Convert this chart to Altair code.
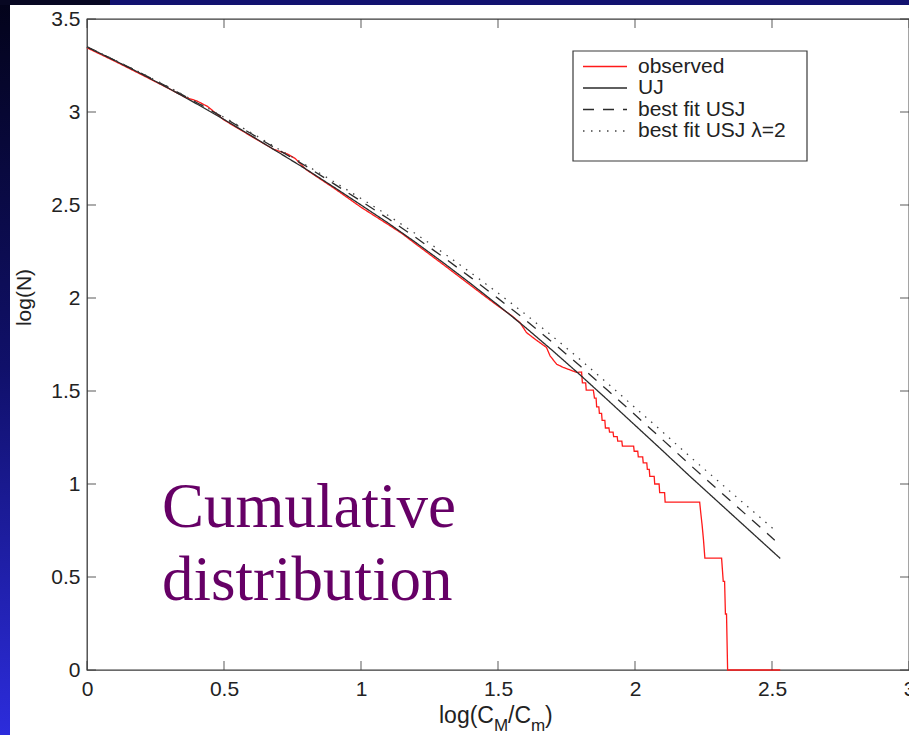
import altair as alt
import pandas as pd

# ---- data -------------------------------------------------------------
series_names = ["observed", "UJ", "best fit USJ", "best fit USJ \u03bb=2"]

grid_x = [0.0, 0.1, 0.2, 0.3, 0.4, 0.5, 0.6, 0.7, 0.8, 0.9, 1.0, 1.1, 1.2,
          1.3, 1.4, 1.5, 1.6, 1.7, 1.8, 1.9, 2.0, 2.1, 2.2, 2.3, 2.4, 2.5]

uj_x = grid_x + [2.53]
uj_y = [3.350, 3.278, 3.204, 3.126, 3.044, 2.960, 2.872, 2.782, 2.692, 2.597,
        2.500, 2.402, 2.298, 2.190, 2.078, 1.962, 1.842, 1.716, 1.586, 1.452,
        1.316, 1.180, 1.042, 0.908, 0.774, 0.640, 0.600]

usj_x = grid_x + [2.51]
usj_y = [3.350, 3.279, 3.207, 3.131, 3.051, 2.969, 2.883, 2.795, 2.708, 2.615,
         2.521, 2.426, 2.325, 2.220, 2.111, 1.998, 1.882, 1.760, 1.634, 1.504,
         1.372, 1.239, 1.104, 0.973, 0.842, 0.711, 0.698]

usj2_x = grid_x + [2.52]
usj2_y = [3.350, 3.280, 3.208, 3.133, 3.053, 2.972, 2.888, 2.800, 2.714, 2.626,
          2.535, 2.443, 2.345, 2.243, 2.137, 2.027, 1.913, 1.793, 1.669, 1.541,
          1.411, 1.281, 1.148, 1.020, 0.892, 0.765, 0.740]

obs_x = [0.0, 0.1, 0.2, 0.3, 0.36, 0.40, 0.44, 0.5, 0.6, 0.68, 0.73, 0.76,
         0.8, 0.9, 0.95, 1.0, 1.1, 1.15, 1.2, 1.3, 1.4, 1.45, 1.5, 1.55,
         1.58, 1.604, 1.635, 1.677, 1.69, 1.714, 1.738, 1.787, 1.805,
         1.808, 1.82, 1.822, 1.848, 1.852, 1.858, 1.86, 1.868, 1.87, 1.878,
         1.88, 1.89, 1.892, 1.905, 1.907, 1.92, 1.922, 1.935, 1.937, 1.952,
         1.954, 1.995, 1.997, 2.01, 2.012, 2.028, 2.03, 2.043, 2.045, 2.052,
         2.054, 2.07, 2.072, 2.088, 2.09, 2.108, 2.11, 2.236, 2.240, 2.245,
         2.250, 2.255, 2.316, 2.322, 2.327, 2.330, 2.334, 2.338, 2.53]
obs_y = [3.345, 3.274, 3.200, 3.125, 3.078, 3.060, 3.030, 2.957, 2.869, 2.800,
         2.775, 2.750, 2.690, 2.592, 2.540, 2.488, 2.394, 2.346, 2.290, 2.180,
         2.068, 2.012, 1.957, 1.905, 1.868, 1.814, 1.779, 1.734, 1.689, 1.644,
         1.627, 1.600, 1.602,
         1.544, 1.544, 1.505, 1.505, 1.462, 1.462, 1.415, 1.415, 1.380, 1.380,
         1.342, 1.342, 1.301, 1.301, 1.279, 1.279, 1.255, 1.255, 1.230, 1.230,
         1.204, 1.204, 1.176, 1.176, 1.146, 1.146, 1.114, 1.114, 1.079, 1.079,
         1.041, 1.041, 1.000, 1.000, 0.954, 0.954, 0.903, 0.903, 0.845, 0.778,
         0.699, 0.602, 0.602, 0.477, 0.477, 0.301, 0.301, 0.0, 0.0]

x_ticks = [0, 0.5, 1, 1.5, 2, 2.5, 3]
y_ticks = [0, 0.5, 1, 1.5, 2, 2.5, 3, 3.5]

# ---- long table -------------------------------------------------------
frames = []
for name, xs, ys in [(series_names[0], obs_x, obs_y),
                     (series_names[1], uj_x, uj_y),
                     (series_names[2], usj_x, usj_y),
                     (series_names[3], usj2_x, usj2_y)]:
    frames.append(pd.DataFrame({"x": xs, "y": ys, "series": name,
                                "order": range(len(xs))}))
data = pd.concat(frames, ignore_index=True)

W, H = 822, 651
FONT = "Liberation Sans"
INK = "#222222"
FRAME = "#3a3a3a"

xscale = alt.Scale(domain=[0, 3], nice=False, zero=False)
yscale = alt.Scale(domain=[0, 3.5], nice=False, zero=False)
color_scale = alt.Scale(domain=series_names,
                        range=["#ff1a1a", "#2b2b2b", "#2b2b2b", "#444444"])
dash_scale = alt.Scale(domain=series_names,
                       range=[[1, 0], [1, 0], [11, 9], [1.5, 6.5]])

xaxis = alt.Axis(values=x_ticks, format="~g", ticks=False, tickSize=0,
                 domain=False, grid=False, title=None,
                 labelFont=FONT, labelFontSize=21, labelColor=INK,
                 labelPadding=8, labelFlush=False, labelOverlap=False)
yaxis = alt.Axis(values=y_ticks, format="~g", ticks=False, tickSize=0,
                 domain=False, grid=False, title="log(N)",
                 labelFont=FONT, labelFontSize=21, labelColor=INK,
                 labelPadding=7, labelFlush=False, labelOverlap=False,
                 titleFont=FONT, titleFontSize=21, titleFontWeight="normal",
                 titleColor=INK, titlePadding=16, titleY=278)

lines = alt.Chart(data).mark_line(strokeWidth=1.3).encode(
    x=alt.X("x:Q", scale=xscale, axis=xaxis),
    y=alt.Y("y:Q", scale=yscale, axis=yaxis),
    color=alt.Color("series:N", scale=color_scale, legend=None),
    strokeDash=alt.StrokeDash("series:N", scale=dash_scale, legend=None),
    order="order:Q",
)

# inward tick marks on all four sides of the frame
xt = pd.DataFrame({"x": x_ticks})
yt = pd.DataFrame({"y": y_ticks})
tick_style = dict(color=FRAME, size=9, thickness=1.2)
ticks_bottom = alt.Chart(xt).mark_tick(orient="vertical", yOffset=-4.5, **tick_style).encode(
    x=alt.X("x:Q", scale=xscale, axis=xaxis), y=alt.value(H))
ticks_top = alt.Chart(xt).mark_tick(orient="vertical", yOffset=4.5, **tick_style).encode(
    x=alt.X("x:Q", scale=xscale, axis=xaxis), y=alt.value(0))
ticks_left = alt.Chart(yt).mark_tick(orient="horizontal", xOffset=4.5, **tick_style).encode(
    y=alt.Y("y:Q", scale=yscale, axis=yaxis), x=alt.value(0))
ticks_right = alt.Chart(yt).mark_tick(orient="horizontal", xOffset=-4.5, **tick_style).encode(
    y=alt.Y("y:Q", scale=yscale, axis=yaxis), x=alt.value(W))

# legend: framed box with a line sample and a label for each series
dummy = pd.DataFrame({"k": [0]})
legend_layers = [
    alt.Chart(dummy).mark_rect(fill="white", stroke=FRAME, strokeWidth=1.2).encode(
        x=alt.value(486), x2=alt.value(720), y=alt.value(32), y2=alt.value(142))
]
row_y = [47.5, 69, 90.5, 112]
for i, name in enumerate(series_names):
    entry = pd.DataFrame({"series": [name]})
    legend_layers.append(
        alt.Chart(entry).mark_rule(strokeWidth=1.3).encode(
            x=alt.value(496), x2=alt.value(540), y=alt.value(row_y[i]),
            color=alt.Color("series:N", scale=color_scale, legend=None),
            strokeDash=alt.StrokeDash("series:N", scale=dash_scale, legend=None))
    )
    legend_layers.append(
        alt.Chart(entry).mark_text(align="left", baseline="middle", font=FONT,
                                   fontSize=21, color=INK).encode(
            text="series:N", x=alt.value(551), y=alt.value(row_y[i]))
    )

# x-axis title with subscripts, built from pieces
title_parts = ["log(C", "M", "/C", "m", ")"]
part_x = [352, 407, 421, 444, 458]
part_y = [704, 712, 704, 712, 704]
part_size = [23, 17, 23, 17, 23]
xtitle = []
for i, t in enumerate(title_parts):
    xtitle.append(
        alt.Chart(pd.DataFrame({"txt": [t]})).mark_text(
            align="left", baseline="alphabetic", font=FONT,
            fontSize=part_size[i], color=INK
        ).encode(text="txt:N", x=alt.value(part_x[i]), y=alt.value(part_y[i]))
    )

# caption in the lower left
caption = alt.Chart(pd.DataFrame({"txt": ["Cumulative\ndistribution"]})).mark_text(
    align="left", baseline="alphabetic", font="Liberation Serif", fontSize=63,
    color="#660066", lineBreak="\n", lineHeight=73
).encode(text="txt:N", x=alt.value(75), y=alt.value(508))

# slide frame around the figure
side_fill = alt.Gradient(
    gradient="linear", x1=0, x2=0, y1=0, y2=1,
    stops=[alt.GradientStop(color="#03031a", offset=0),
           alt.GradientStop(color="#10106a", offset=0.5),
           alt.GradientStop(color="#2c2cdc", offset=1)])
left_strip = alt.Chart(dummy).mark_rect(fill=side_fill).encode(
    x=alt.value(-87), x2=alt.value(-77), y=alt.value(-19), y2=alt.value(H + 65))
top_dark = alt.Chart(dummy).mark_rect(fill="#070722").encode(
    x=alt.value(-87), x2=alt.value(23), y=alt.value(-19), y2=alt.value(-14))
top_navy = alt.Chart(dummy).mark_rect(fill="#121270").encode(
    x=alt.value(23), x2=alt.value(W), y=alt.value(-19), y2=alt.value(-14))

chart = alt.layer(
    lines, *legend_layers, ticks_bottom, ticks_top, ticks_left, ticks_right,
    caption, *xtitle, left_strip, top_dark, top_navy
).properties(
    width=W, height=H,
    autosize=alt.AutoSizeParams(type="none"),
    padding={"left": 87, "top": 19, "right": 0, "bottom": 65},
    background="white",
).configure_view(
    stroke=FRAME, strokeWidth=1.3
)

chart.save("out.html", embed_options={"renderer": "svg", "actions": False})
